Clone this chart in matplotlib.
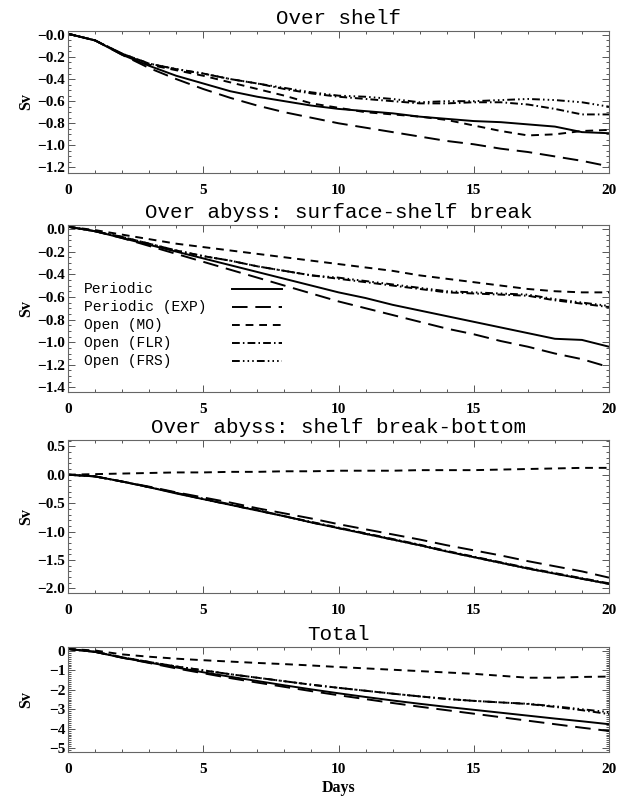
import numpy as np
import matplotlib
matplotlib.use("Agg")
import matplotlib.pyplot as plt
from matplotlib.lines import Line2D
from matplotlib.ticker import FixedLocator, FixedFormatter, MultipleLocator

days = list(range(0, 21))

# ---- Over shelf ----
shelf_periodic = [0.01, -0.05, -0.18, -0.28, -0.37, -0.44, -0.51, -0.56, -0.60, -0.64, -0.67,
                  -0.69, -0.71, -0.74, -0.76, -0.78, -0.79, -0.81, -0.83, -0.88, -0.89]
shelf_exp = [0.01, -0.05, -0.18, -0.30, -0.40, -0.49, -0.57, -0.64, -0.70, -0.75, -0.80,
             -0.84, -0.88, -0.92, -0.96, -0.99, -1.03, -1.06, -1.10, -1.14, -1.19]
shelf_mo = [0.01, -0.05, -0.17, -0.27, -0.32, -0.37, -0.43, -0.49, -0.55, -0.62, -0.66,
            -0.70, -0.72, -0.74, -0.77, -0.82, -0.87, -0.91, -0.90, -0.87, -0.86]
shelf_flr = [0.01, -0.05, -0.17, -0.26, -0.31, -0.35, -0.40, -0.44, -0.49, -0.53, -0.56,
             -0.58, -0.60, -0.62, -0.62, -0.61, -0.61, -0.63, -0.67, -0.72, -0.72]
shelf_frs = [0.01, -0.05, -0.17, -0.26, -0.31, -0.35, -0.40, -0.44, -0.48, -0.52, -0.55,
             -0.56, -0.58, -0.61, -0.60, -0.60, -0.59, -0.58, -0.59, -0.61, -0.65]

# ---- Over abyss: surface-shelf break ----
surf_periodic = [0.02, -0.02, -0.08, -0.14, -0.20, -0.26, -0.32, -0.38, -0.44, -0.50, -0.56,
                 -0.61, -0.67, -0.72, -0.77, -0.82, -0.87, -0.92, -0.97, -0.98, -1.04]
surf_exp = [0.02, -0.02, -0.08, -0.15, -0.22, -0.29, -0.36, -0.43, -0.50, -0.57, -0.64,
            -0.70, -0.76, -0.82, -0.88, -0.93, -0.99, -1.04, -1.10, -1.15, -1.22]
surf_mo = [0.02, -0.01, -0.05, -0.09, -0.13, -0.16, -0.19, -0.22, -0.25, -0.28, -0.31,
           -0.34, -0.37, -0.41, -0.44, -0.47, -0.50, -0.53, -0.55, -0.56, -0.56]
surf_flr = [0.02, -0.02, -0.07, -0.13, -0.19, -0.24, -0.28, -0.33, -0.37, -0.41, -0.44,
            -0.47, -0.50, -0.53, -0.56, -0.57, -0.58, -0.59, -0.63, -0.66, -0.69]
surf_frs = [0.02, -0.02, -0.07, -0.13, -0.19, -0.24, -0.28, -0.33, -0.37, -0.41, -0.43,
            -0.46, -0.49, -0.52, -0.55, -0.56, -0.57, -0.58, -0.62, -0.65, -0.68]

# ---- Over abyss: shelf break-bottom ----
bott_periodic = [0.0, -0.03, -0.12, -0.22, -0.33, -0.43, -0.53, -0.63, -0.73, -0.84, -0.94,
                 -1.04, -1.14, -1.24, -1.35, -1.45, -1.55, -1.65, -1.74, -1.83, -1.92]
bott_exp = [0.0, -0.03, -0.12, -0.21, -0.31, -0.40, -0.49, -0.59, -0.68, -0.77, -0.87,
            -0.96, -1.05, -1.14, -1.24, -1.33, -1.42, -1.52, -1.61, -1.70, -1.81]
bott_mo = [0.00, 0.01, 0.02, 0.03, 0.04, 0.04, 0.05, 0.05, 0.06, 0.06, 0.07,
           0.07, 0.07, 0.08, 0.08, 0.08, 0.09, 0.10, 0.11, 0.12, 0.12]
bott_flr = [0.0, -0.03, -0.12, -0.22, -0.32, -0.42, -0.52, -0.62, -0.73, -0.83, -0.93,
            -1.03, -1.13, -1.23, -1.34, -1.44, -1.54, -1.64, -1.73, -1.82, -1.91]
bott_frs = [0.0, -0.03, -0.12, -0.22, -0.32, -0.43, -0.53, -0.63, -0.73, -0.84, -0.94,
            -1.04, -1.14, -1.24, -1.35, -1.45, -1.55, -1.65, -1.74, -1.83, -1.92]

# ---- Total ----
tot_periodic = [0.10, -0.05, -0.35, -0.60, -0.85, -1.10, -1.33, -1.55, -1.77, -1.98, -2.18,
                -2.37, -2.55, -2.72, -2.88, -3.03, -3.18, -3.33, -3.48, -3.62, -3.77]
tot_exp = [0.10, -0.05, -0.35, -0.62, -0.90, -1.15, -1.40, -1.63, -1.85, -2.07, -2.28,
           -2.48, -2.68, -2.87, -3.05, -3.23, -3.41, -3.59, -3.77, -3.95, -4.12]
tot_mo = [0.10, 0.02, -0.18, -0.30, -0.40, -0.48, -0.55, -0.62, -0.68, -0.75, -0.83,
          -0.90, -0.97, -1.04, -1.11, -1.18, -1.28, -1.38, -1.38, -1.34, -1.32]
tot_flr = [0.10, -0.05, -0.33, -0.57, -0.80, -1.00, -1.20, -1.38, -1.56, -1.74, -1.90,
           -2.05, -2.20, -2.34, -2.47, -2.57, -2.65, -2.73, -2.88, -3.05, -3.25]
tot_frs = [0.10, -0.05, -0.33, -0.57, -0.80, -1.00, -1.20, -1.38, -1.56, -1.74, -1.90,
           -2.05, -2.20, -2.34, -2.47, -2.57, -2.65, -2.72, -2.85, -3.00, -3.15]

series_names = ["Periodic", "Periodic (EXP)", "Open (MO)", "Open (FLR)", "Open (FRS)"]
titles = ["Over shelf", "Over abyss: surface-shelf break",
          "Over abyss: shelf break-bottom", "Total"]

xticks = [0, 5, 10, 15, 20]
xticklabels = ["0", "5", "10", "15", "20"]

yticks_1 = [0.0, -0.2, -0.4, -0.6, -0.8, -1.0, -1.2]
yticklabels_1 = ["\u22120.0", "\u22120.2", "\u22120.4", "\u22120.6", "\u22120.8", "\u22121.0", "\u22121.2"]
yticks_2 = [0.0, -0.2, -0.4, -0.6, -0.8, -1.0, -1.2, -1.4]
yticklabels_2 = ["0.0", "\u22120.2", "\u22120.4", "\u22120.6", "\u22120.8", "\u22121.0", "\u22121.2", "\u22121.4"]
yticks_3 = [0.5, 0.0, -0.5, -1.0, -1.5, -2.0]
yticklabels_3 = ["0.5", "0.0", "\u22120.5", "\u22121.0", "\u22121.5", "\u22122.0"]
yticks_4 = [0, -1, -2, -3, -4, -5]
yticklabels_4 = ["0", "\u22121", "\u22122", "\u22123", "\u22124", "\u22125"]

panels = [
    dict(data=[shelf_periodic, shelf_exp, shelf_mo, shelf_flr, shelf_frs],
         yticks=yticks_1, ylabels=yticklabels_1, ylim=(-1.25, 0.035), minor=0.05,
         rect=(68, 31, 609, 173)),
    dict(data=[surf_periodic, surf_exp, surf_mo, surf_flr, surf_frs],
         yticks=yticks_2, ylabels=yticklabels_2, ylim=(-1.44, 0.035), minor=0.05,
         rect=(68, 225, 609, 392)),
    dict(data=[bott_periodic, bott_exp, bott_mo, bott_flr, bott_frs],
         yticks=yticks_3, ylabels=yticklabels_3, ylim=(-2.08, 0.61), minor=0.1,
         rect=(68, 440, 609, 593)),
    dict(data=[tot_periodic, tot_exp, tot_mo, tot_flr, tot_frs],
         yticks=yticks_4, ylabels=yticklabels_4, ylim=(-5.2, 0.2), minor=0.1,
         rect=(68, 647, 609, 752)),
]

LW = 1.4
styles = ["-", (0, (8, 4)), (0, (4, 3)), (0, (4, 1.6, 0.8, 1.6)),
          (0, (4, 1.6, 0.8, 1.6, 0.8, 1.6, 0.8, 1.6))]

W, H = 631, 799
fig = plt.figure(figsize=(W / 100, H / 100), dpi=100)

mono_font = ["Liberation Mono", "DejaVu Sans Mono"]
tick_font = ["Liberation Serif", "DejaVu Serif"]

for i, p in enumerate(panels):
    x0, y0, x1, y1 = p["rect"]
    ax = fig.add_axes([x0 / W, 1 - y1 / H, (x1 - x0) / W, (y1 - y0) / H])
    for d, ls in zip(p["data"], styles):
        ax.plot(days, d, color="black", lw=LW, linestyle=ls)
    ax.set_xlim(0, 20)
    ax.set_ylim(*p["ylim"])
    ax.xaxis.set_major_locator(FixedLocator(xticks))
    ax.xaxis.set_major_formatter(FixedFormatter(xticklabels))
    ax.xaxis.set_minor_locator(MultipleLocator(1))
    ax.yaxis.set_major_locator(FixedLocator(p["yticks"]))
    ax.yaxis.set_major_formatter(FixedFormatter(p["ylabels"]))
    ax.yaxis.set_minor_locator(MultipleLocator(p["minor"]))
    ax.tick_params(which="both", direction="in", top=True, right=True, color="#555555", width=0.7)
    ax.tick_params(which="major", length=5)
    ax.tick_params(which="minor", length=2.5)
    ax.tick_params(axis="x", which="major", pad=8)
    ax.tick_params(axis="y", which="major", pad=2)
    for lab in ax.get_xticklabels() + ax.get_yticklabels():
        lab.set_fontfamily(tick_font)
        lab.set_fontweight("bold")
        lab.set_fontsize(11)
    for sp in ax.spines.values():
        sp.set_linewidth(0.8)
        sp.set_color("#666666")
    ax.set_title(titles[i], family=mono_font, fontsize=15, pad=5)
    ax.set_ylabel("Sv", family=tick_font, fontweight="bold", fontsize=11.5)
    ax.yaxis.set_label_coords(-0.063, 0.5)
    if i == 3:
        ax.set_xlabel("Days", family=tick_font, fontweight="bold", fontsize=11.5)
        ax.xaxis.set_label_coords(0.5, -0.27)
    if i == 1:
        ypos = [0.617, 0.509, 0.401, 0.293, 0.185]
        for name, ls, yy in zip(series_names, styles, ypos):
            ax.text(0.03, yy, name, transform=ax.transAxes, family=mono_font,
                    fontsize=10.5, va="center", ha="left")
            ax.add_line(Line2D([0.303, 0.396], [yy, yy], transform=ax.transAxes,
                               color="black", lw=LW, linestyle=ls))

fig.savefig("out.png", dpi=100)
